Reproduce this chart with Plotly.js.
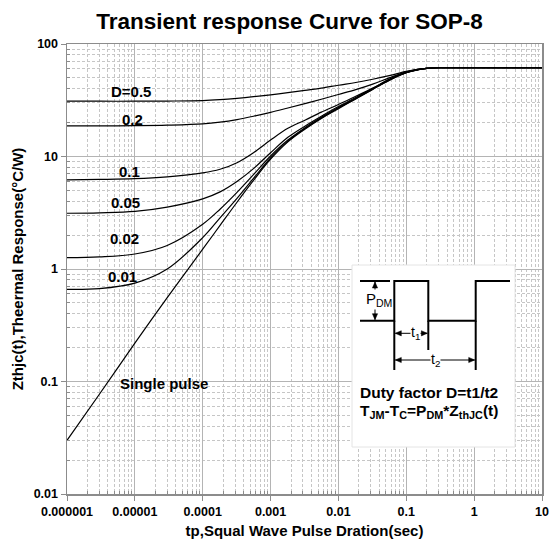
<!DOCTYPE html>
<html>
<head>
<meta charset="utf-8">
<script src="https://cdn.plot.ly/plotly-3.0.1.min.js"></script>
<style>
  html, body { margin: 0; padding: 0; background: #fff; }
  #chart { width: 554px; height: 547px; }
</style>
</head>
<body>
<div id="chart"></div>
<script>
// Pulse duration (s)
const tp = [1e-6, 3e-6, 1e-5, 3e-5, 1e-4, 1.8e-4, 3.2e-4, 5.6e-4, 1e-3, 1.8e-3, 3.2e-3,
            5.6e-3, 1e-2, 1.8e-2, 3.2e-2, 5.6e-2, 0.1, 0.15, 0.2, 0.3, 1, 10];

// Transient thermal impedance Zthjc (°C/W) per duty factor
const zD05    = [31, 31, 31, 31.1, 31.4, 32, 32.9, 34, 35.3, 36.9, 38.7, 40.5, 43, 45.5, 48.6, 52.3, 57, 59.8, 60.9, 61.5, 61.5, 61.5];
const zD02    = [18.7, 18.7, 18.8, 19.0, 19.5, 20.2, 21.3, 22.8, 24.7, 27, 29.5, 32.3, 35.6, 39.3, 44, 50, 56.5, 59.5, 60.8, 61.5, 61.5, 61.5];
const zD01    = [6.2, 6.25, 6.35, 6.6, 7.15, 7.7, 8.8, 10.8, 14.0, 17.8, 21.0, 24.8, 29, 34.3, 40.5, 48.5, 56.2, 59.3, 60.7, 61.5, 61.5, 61.5];
const zD005   = [3.13, 3.16, 3.25, 3.55, 4.2, 4.85, 6.0, 7.8, 10.8, 14.8, 18.6, 22.8, 27.8, 33.4, 40.2, 48.2, 56, 59.2, 60.7, 61.5, 61.5, 61.5];
const zD002   = [1.26, 1.28, 1.36, 1.62, 2.5, 3.4, 4.8, 6.9, 10.1, 14, 18, 22.3, 27.3, 33, 40, 48, 55.8, 59.1, 60.7, 61.5, 61.5, 61.5];
const zD001   = [0.66, 0.67, 0.75, 1.0, 1.9, 2.85, 4.25, 6.4, 9.7, 13.7, 17.7, 22, 27, 32.7, 39.7, 47.7, 55.6, 59, 60.7, 61.5, 61.5, 61.5];
const zSingle = [0.030, 0.077, 0.219, 0.556, 1.5, 2.44, 3.92, 6.12, 9.46, 13.5, 17.5, 21.8, 26.6, 32.5, 39.5, 47.5, 55.5, 59, 60.7, 61.5, 61.5, 61.5];

const seriesNames = ['D=0.5', '0.2', '0.1', '0.05', '0.02', '0.01', 'Single pulse'];
const seriesValues = [zD05, zD02, zD01, zD005, zD002, zD001, zSingle];

// Axis ticks
const xTickVals = [1e-6, 1e-5, 1e-4, 1e-3, 1e-2, 1e-1, 1, 10];
const xTickText = ['0.000001', '0.00001', '0.0001', '0.001', '0.01', '0.1', '1', '10'];
const yTickVals = [0.01, 0.1, 1, 10, 100];
const yTickText = ['0.01', '0.1', '1', '10', '100'];

// Plot-area frame in page pixels
const PL = 67, PR = 542, PT = 44, PB = 494;
const W = 554, H = 547;
const fx = p => (p - PL) / (PR - PL);
const fy = p => (PB - p) / (PB - PT);

function minorTicks(decades) {
  const out = [];
  for (let i = 0; i < decades.length - 1; i++) {
    for (let k = 2; k <= 9; k++) out.push(decades[i] * k);
  }
  return out;
}

const FONT = 'Arial, "Liberation Sans", Helvetica, sans-serif';

const traces = seriesValues.map((vals, i) => ({
  x: tp,
  y: vals,
  name: seriesNames[i],
  type: 'scatter',
  mode: 'lines',
  line: { color: '#000', width: 1.2, shape: 'spline', smoothing: 1 },
  hoverinfo: 'x+y+name'
}));

// Curve labels (page pixel centres)
const curveLabels = [
  { text: 'D=0.5', x: 130.5, y: 91 },
  { text: '0.2', x: 132, y: 120 },
  { text: '0.1', x: 129, y: 171 },
  { text: '0.05', x: 125, y: 202 },
  { text: '0.02', x: 124, y: 238 },
  { text: '0.01', x: 122, y: 276 },
  { text: 'Single pulse', x: 164, y: 383 }
];

// Duty-cycle sketch inside the white panel
const hi = 281, lo = 320.7;
const e0 = 360, e1 = 394.3, e2 = 428.3, e3 = 475.7, e4 = 510;

function pathOf(points, close) {
  return points.map((p, i) => (i ? 'L' : 'M') + fx(p[0]).toFixed(5) + ',' + fy(p[1]).toFixed(5)).join(' ') + (close ? ' Z' : '');
}
function seg(x0, y0, x1, y1, w) {
  return { type: 'line', xref: 'paper', yref: 'paper',
           x0: fx(x0), y0: fy(y0), x1: fx(x1), y1: fy(y1),
           line: { color: '#000', width: w || 2 } };
}
// Small filled arrowhead with its tip at (x, y), pointing along (dx, dy)
function head(x, y, dx, dy) {
  const L = 6, Hw = 2.6;
  const bx = x - dx * L, by = y - dy * L;
  return { type: 'path', xref: 'paper', yref: 'paper',
           path: pathOf([[x, y], [bx - dy * Hw, by + dx * Hw], [bx + dy * Hw, by - dx * Hw]], true),
           fillcolor: '#000', line: { color: '#000', width: 0.5 } };
}
// Double-headed dimension line
function dim(x0, y0, x1, y1) {
  const len = Math.hypot(x1 - x0, y1 - y0);
  const ux = (x1 - x0) / len, uy = (y1 - y0) / len;
  return [seg(x0, y0, x1, y1, 1), head(x1, y1, ux, uy), head(x0, y0, -ux, -uy)];
}

const shapes = [
  { type: 'rect', xref: 'paper', yref: 'paper', layer: 'above',
    x0: fx(352), x1: fx(515), y0: fy(447), y1: fy(265),
    fillcolor: '#fff', line: { color: '#e4e4e4', width: 1 } },
  { type: 'path', xref: 'paper', yref: 'paper',
    path: pathOf([[e0, lo], [e1, lo], [e1, hi], [e2, hi], [e2, lo], [e3, lo], [e3, hi], [e4, hi]]),
    line: { color: '#000', width: 2 } },
  seg(e0, hi, 390, hi, 2),
  seg(e1, lo, e1, 370, 2),
  seg(e2, lo, e2, 350, 2),
  seg(e3, lo, e3, 370, 2),
  ...dim(375, hi + 1, 375, lo - 1),
  ...dim(e1 + 1, 333.3, e2 - 1, 333.3),
  ...dim(e1 + 1, 360, e3 - 1, 360)
];

function note(text, x, y, size, bold, anchor, bg) {
  return { xref: 'paper', yref: 'paper', x: fx(x), y: fy(y),
           xanchor: anchor || 'center', yanchor: 'middle',
           text: bold ? '<b>' + text + '</b>' : text, showarrow: false,
           font: { family: FONT, size: size, color: '#000' },
           bgcolor: bg || 'rgba(0,0,0,0)', borderpad: 0 };
}

const annotations = [
  ...curveLabels.map(l => note(l.text, l.x, l.y, 15, true)),
  note('P<sub>DM</sub>', 379, 299, 15, false, 'center', '#fff'),
  note('t<sub>1</sub>', 415, 333, 14, false, 'center', '#fff'),
  note('t<sub>2</sub>', 435, 360, 14, false, 'center', '#fff'),
  note('Duty factor D=t1/t2', 359, 392, 15.5, true, 'left'),
  note('T<sub>JM</sub>-T<sub>C</sub>=P<sub>DM</sub>*Z<sub>thJC</sub>(t)', 359, 411, 15.5, true, 'left')
];

const axisCommon = {
  type: 'log',
  tickmode: 'array',
  showgrid: true,
  gridcolor: '#b4b4b4',
  gridwidth: 1,
  showline: true,
  linecolor: '#8c8c8c',
  linewidth: 1.5,
  mirror: true,
  ticks: 'outside',
  ticklen: 5,
  tickcolor: '#8c8c8c',
  zeroline: false,
  tickfont: { family: FONT, size: 12.5, color: '#000', weight: 'bold' }
};

const minorGrid = {
  tickmode: 'array', showgrid: true,
  gridcolor: '#c6c6c6', griddash: '3px,2px', gridwidth: 1,
  ticks: 'inside', ticklen: 3, tickcolor: '#8c8c8c'
};

const layout = {
  width: W,
  height: H,
  margin: { l: PL, r: W - PR, t: PT, b: H - PB },
  paper_bgcolor: '#fff',
  plot_bgcolor: '#fff',
  showlegend: false,
  title: {
    text: '<b>Transient response Curve for SOP-8</b>',
    font: { family: FONT, size: 22.5, color: '#000' },
    x: 289.5 / W, xanchor: 'center',
    y: 1 - 21 / H, yanchor: 'middle', xref: 'container', yref: 'container'
  },
  xaxis: Object.assign({}, axisCommon, {
    range: [-6, 1],
    tickvals: xTickVals,
    ticktext: xTickText,
    minor: Object.assign({ tickvals: minorTicks(xTickVals) }, minorGrid),
    title: { text: '<b>tp,Squal Wave Pulse Dration(sec)</b>', standoff: 8,
             font: { family: FONT, size: 15, color: '#000' } }
  }),
  yaxis: Object.assign({}, axisCommon, {
    range: [-2, 2],
    tickvals: yTickVals,
    ticktext: yTickText,
    minor: Object.assign({ tickvals: minorTicks(yTickVals) }, minorGrid),
    title: { text: '<b>Zthjc(t),Theermal Response(°C/W)</b>', standoff: 6,
             font: { family: FONT, size: 15, color: '#000' } }
  }),
  shapes: shapes,
  annotations: annotations
};

Plotly.newPlot('chart', traces, layout, { staticPlot: true, displayModeBar: false });
</script>
</body>
</html>
